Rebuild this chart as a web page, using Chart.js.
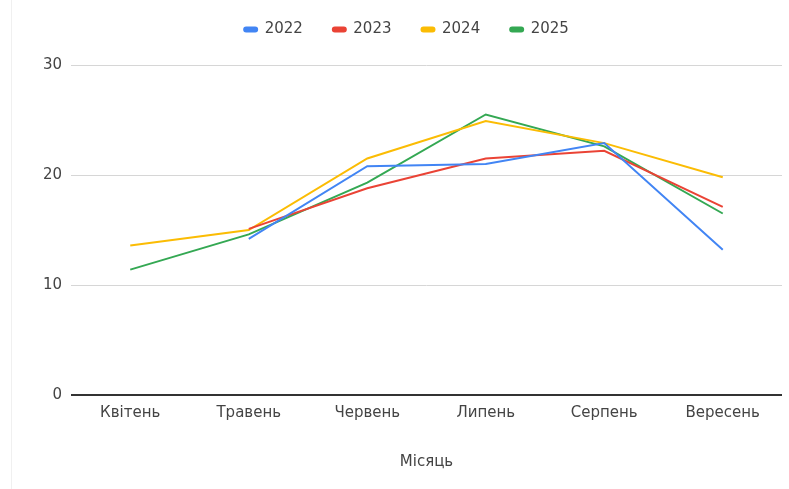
<!DOCTYPE html>
<html lang="uk">
<head>
<meta charset="utf-8">
<title>Місяць</title>
<script src="https://cdn.jsdelivr.net/npm/chart.js@4/dist/chart.umd.min.js"></script>
<style>
  html, body { margin: 0; padding: 0; background: #fff; }
  #wrap { position: relative; width: 789px; height: 489px; }
  #edge { position: absolute; left: 11px; top: 0; width: 1px; height: 489px; background: #f0f0f0; }
</style>
</head>
<body>
<div id="wrap">
  <div id="edge"></div>
  <canvas id="chart"></canvas>
</div>
<script>
// Months on the x axis
const months = ['Квітень', 'Травень', 'Червень', 'Липень', 'Серпень', 'Вересень'];

// One series per year (null = no reading that month)
const year2022 = [null, 14.2, 20.8, 21.0, 22.9, 13.2];
const year2023 = [null, 15.1, 18.8, 21.5, 22.2, 17.1];
const year2024 = [13.6, 15.0, 21.5, 24.9, 22.9, 19.8];
const year2025 = [11.4, 14.6, 19.3, 25.5, 22.6, 16.5];

const seriesNames = ['2022', '2023', '2024', '2025'];
const yTicks = [0, 10, 20, 30];

const colors = ['#4285F4', '#EA4335', '#FBBC04', '#34A853'];
const FONT = 'DejaVu Sans, Arial, sans-serif';

// Extra room between the legend and the plot
const legendGap = {
  id: 'legendGap',
  beforeInit(chart) {
    const origFit = chart.legend.fit;
    chart.legend.fit = function () {
      origFit.bind(chart.legend)();
      this.height += 18;
    };
  }
};

const datasets = [year2022, year2023, year2024, year2025].map((data, i) => ({
  label: seriesNames[i],
  data: data,
  borderColor: colors[i],
  backgroundColor: colors[i],
  borderWidth: 2,
  pointRadius: 0,
  pointHoverRadius: 0,
  tension: 0,
  spanGaps: false
}));

new Chart(document.getElementById('chart'), {
  type: 'line',
  data: { labels: months, datasets: datasets },
  plugins: [legendGap],
  options: {
    responsive: true,
    maintainAspectRatio: false,
    animation: false,
    layout: { padding: { left: 31, right: 7, top: -8, bottom: 0 } },
    plugins: {
      legend: {
        position: 'top',
        labels: {
          font: { family: FONT, size: 15 },
          color: '#444',
          boxWidth: 13,
          boxHeight: 4,
          useBorderRadius: true,
          borderRadius: 2,
          padding: 30
        }
      },
      tooltip: { enabled: false }
    },
    scales: {
      x: {
        offset: true,
        grid: { display: false, drawTicks: false },
        border: { display: false },
        ticks: {
          font: { family: FONT, size: 15 },
          color: '#444',
          padding: 9,
          maxRotation: 0
        },
        title: {
          display: true,
          text: 'Місяць',
          font: { family: FONT, size: 15 },
          color: '#444',
          padding: { top: 4, bottom: 18 }
        },
        afterFit(scale) { scale.height = 94; }
      },
      y: {
        min: 0,
        max: 30,
        afterBuildTicks(scale) { scale.ticks = yTicks.map(v => ({ value: v })); },
        grid: {
          drawTicks: false,
          color: ctx => (ctx.tick && ctx.tick.value === 0) ? '#333' : '#d6d6d6',
          lineWidth: ctx => (ctx.tick && ctx.tick.value === 0) ? 2 : 1
        },
        border: { display: false },
        ticks: {
          font: { family: FONT, size: 15 },
          color: '#444',
          padding: 9
        },
        afterFit(scale) { scale.width = 40; }
      }
    }
  }
});
</script>
</body>
</html>
